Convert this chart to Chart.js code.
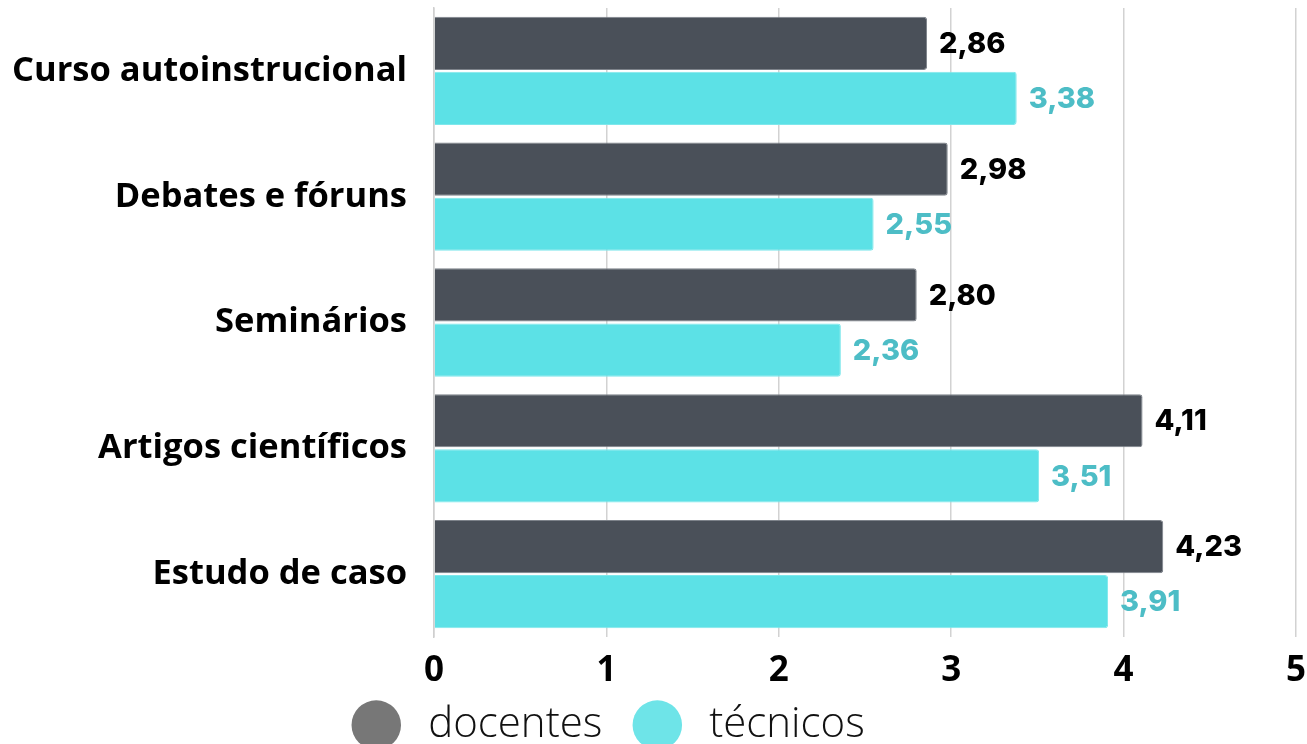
<!DOCTYPE html>
<html>
<head>
<meta charset="utf-8">
<script src="https://cdn.jsdelivr.net/npm/chart.js@4"></script>
<style>
  html, body { margin: 0; padding: 0; background: #fff; overflow: hidden; }
  #wrap { position: relative; width: 1307px; height: 792px; }
</style>
</head>
<body>
<div id="wrap"><canvas id="chart"></canvas></div>
<script>
// dados
const categorias = ['Curso autoinstrucional', 'Debates e fóruns', 'Seminários', 'Artigos científicos', 'Estudo de caso'];
const docentes = [2.86, 2.98, 2.80, 4.11, 4.23];
const tecnicos = [3.38, 2.55, 2.36, 3.51, 3.91];
const ticksX = [0, 1, 2, 3, 4, 5];

const COR_DOC = '#4a5059';
const COR_TEC = '#5ce1e6';
const LEGENDA = ['#777777', '#6ee4e8'];

const fmt = v => v.toFixed(2).replace('.', ',');

// rótulos de valor ao lado das barras
const rotulos = {
  id: 'rotulos',
  afterDatasetsDraw(chart) {
    const c = chart.ctx;
    c.save();
    c.font = '800 29px Inter';
    c.textBaseline = 'middle';
    c.textAlign = 'left';
    chart.data.datasets.forEach((ds, i) => {
      const meta = chart.getDatasetMeta(i);
      c.fillStyle = i === 0 ? '#000000' : '#4dbdc6';
      meta.data.forEach((bar, j) => {
        c.fillText(fmt(ds.data[j]), bar.x + 12, bar.y + 1);
      });
    });
    c.restore();
  }
};

// ajuste fino da posição da legenda
const LEG_DX = -49;
const LEG_DY = -36;
const legendaShift = {
  id: 'legendaShift',
  afterLayout(chart) {
    const lg = chart.legend;
    lg.left += LEG_DX; lg.right += LEG_DX;
    lg.top += LEG_DY; lg.bottom += LEG_DY;
  }
};

new Chart(document.getElementById('chart'), {
  type: 'bar',
  data: {
    labels: categorias,
    datasets: [
      { label: ' docentes', data: docentes, backgroundColor: COR_DOC, borderColor: '#7d828a', borderWidth: 1, borderSkipped: 'start', borderRadius: 3 },
      { label: ' técnicos', data: tecnicos, backgroundColor: COR_TEC, borderColor: '#7fe7eb', borderWidth: 1, borderSkipped: 'start', borderRadius: 3 }
    ]
  },
  options: {
    indexAxis: 'y',
    responsive: true,
    maintainAspectRatio: false,
    animation: false,
    categoryPercentage: 0.876,
    barPercentage: 0.965,
    layout: { padding: { top: 8, right: 0, left: 12, bottom: 0 } },
    plugins: {
      tooltip: { enabled: false },
      legend: {
        position: 'bottom',
        labels: {
          usePointStyle: true,
          pointStyle: 'circle',
          boxHeight: 35,
          padding: 35,
          color: '#111',
          font: { family: 'Open Sans', size: 42, weight: 300 },
          generateLabels(chart) {
            const items = Chart.defaults.plugins.legend.labels.generateLabels(chart);
            items.forEach((it, i) => { it.fillStyle = LEGENDA[i]; it.strokeStyle = LEGENDA[i]; it.lineWidth = 0; });
            return items;
          }
        }
      }
    },
    scales: {
      x: {
        min: 0,
        max: 5,
        afterBuildTicks(axis) { axis.ticks = ticksX.map(v => ({ value: v })); },
        grid: { color: '#d2d2d2', lineWidth: 1.5, drawTicks: false },
        border: { display: false },
        ticks: { color: '#000', padding: 13, font: { family: 'Open Sans', size: 35, weight: 700 } },
        afterFit(axis) { axis.paddingRight = 11; }
      },
      y: {
        grid: { display: false, drawTicks: false },
        border: { display: true, color: '#cfcfcf', width: 1.5 },
        ticks: { color: '#000', padding: 27, font: { family: 'Open Sans', size: 34.5, weight: 700 } },
        afterFit(axis) { axis.width = 422; axis.paddingTop = 0; axis.paddingBottom = 0; }
      }
    }
  },
  plugins: [rotulos, legendaShift]
});
</script>
</body>
</html>
